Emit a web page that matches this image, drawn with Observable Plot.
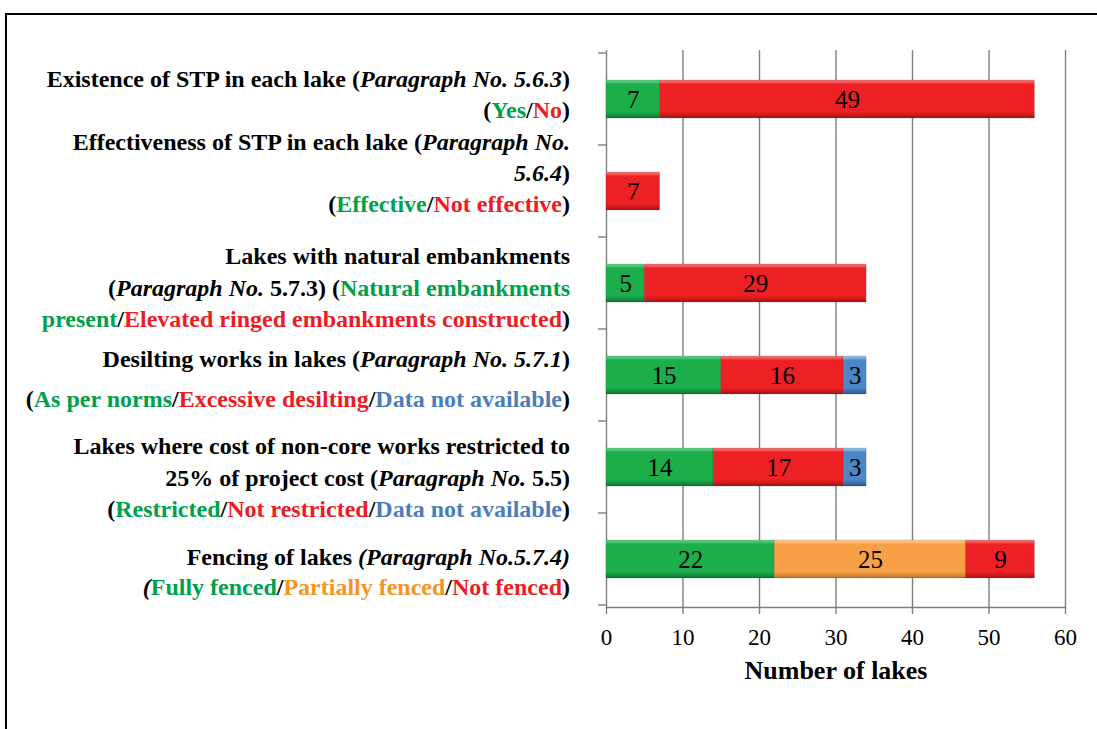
<!DOCTYPE html>
<html><head><meta charset="utf-8">
<script src="https://cdn.jsdelivr.net/npm/d3@7"></script>
<script src="https://cdn.jsdelivr.net/npm/@observablehq/plot@0.6"></script>
<style>
body{margin:0;background:#fff;}
#wrap{position:relative;width:1097px;height:729px;overflow:hidden;font-family:"Liberation Serif","Times New Roman",Tinos,"DejaVu Serif",serif;}
#wrap svg{position:absolute;left:0;top:0;}
#frame{position:absolute;left:5px;top:13px;width:1200px;height:800px;border-top:2px solid #000;border-left:2px solid #000;pointer-events:none;}
</style></head><body>
<div id="wrap"><div id="frame"></div></div>
<script>
// ---- data ----
const categories = ["Existence of STP", "Effectiveness of STP", "Natural embankments", "Desilting works", "Non-core works cost", "Fencing of lakes"];
const groups = ["positive", "partial", "negative", "unavailable"];
const positiveValues    = [7, 0, 5, 15, 14, 22];
const partialValues     = [0, 0, 0, 0, 0, 25];
const negativeValues    = [49, 7, 29, 16, 17, 9];
const unavailableValues = [0, 0, 0, 3, 3, 0];
const xTicks = [0, 10, 20, 30, 40, 50, 60];
const xLabel = "Number of lakes";

// label lines: [text, style]  k=black, i=black italic, g=green, o=orange, r=red, u=blue
const labelLines = [
  [[["Existence of STP in each lake (", "k"], ["Paragraph No. 5.6.3", "i"], [")", "k"]],
   [["(", "k"], ["Yes", "g"], ["/", "k"], ["No", "r"], [")", "k"]]],
  [[["Effectiveness of STP in each lake (", "k"], ["Paragraph No.", "i"]],
   [["5.6.4", "i"], [")", "k"]],
   [["(", "k"], ["Effective", "g"], ["/", "k"], ["Not effective", "r"], [")", "k"]]],
  [[["Lakes with natural embankments", "k"]],
   [["(", "k"], ["Paragraph No.", "i"], [" 5.7.3) (", "k"], ["Natural embankments", "g"]],
   [["present", "g"], ["/", "k"], ["Elevated ringed embankments constructed", "r"], [")", "k"]]],
  [[["Desilting works in lakes (", "k"], ["Paragraph No. 5.7.1", "i"], [")", "k"]],
   [["(", "k"], ["As per norms", "g"], ["/", "k"], ["Excessive desilting", "r"], ["/", "k"], ["Data not available", "u"], [")", "k"]]],
  [[["Lakes where cost of non-core works restricted to", "k"]],
   [["25% of project cost (", "k"], ["Paragraph No.", "i"], [" 5.5)", "k"]],
   [["(", "k"], ["Restricted", "g"], ["/", "k"], ["Not restricted", "r"], ["/", "k"], ["Data not available", "u"], [")", "k"]]],
  [[["Fencing of lakes ", "k"], ["(Paragraph No.5.7.4)", "i"]],
   [["(", "i"], ["Fully fenced", "g"], ["/", "k"], ["Partially fenced", "o"], ["/", "k"], ["Not fenced", "r"], [")", "k"]]]
];

// ---- layout / style ----
const lineOffsets = [[-12, 19], [-41, -10, 21], [-19, 13, 44], [-8, 32], [-13, 19, 50], [6, 36]];
const barColors = {
  positive:    ["#6fd08c", "#1bae4b", "#0a7431"],
  partial:     ["#fdd09c", "#f7a046", "#c0722a"],
  negative:    ["#f78082", "#ed2024", "#a81317"],
  unavailable: ["#a9c8ea", "#4a86c8", "#2b5a90"]
};
const textColors = {k: "#000", i: "#000", g: "#00a14b", o: "#f7941d", r: "#ed1c24", u: "#4a7ebb"};
const serif = "Liberation Serif, Times New Roman, Tinos, DejaVu Serif, serif";

const valuesByGroup = {positive: positiveValues, partial: partialValues, negative: negativeValues, unavailable: unavailableValues};
const data = [];
categories.forEach((c, i) => groups.forEach(g => {
  const v = valuesByGroup[g][i];
  if (v > 0) data.push({category: c, group: g, value: v});
}));

const plot = Plot.plot({
  width: 1097, height: 729,
  marginLeft: 606, marginRight: 32, marginTop: 50, marginBottom: 122,
  style: {fontFamily: serif, background: "transparent", overflow: "visible"},
  x: {domain: [0, 60], ticks: xTicks},
  y: {domain: categories, paddingInner: 0.59, paddingOuter: 0.295, axis: null},
  color: {type: "ordinal", domain: groups, range: groups.map(g => `url(#grad-${g})`)},
  marks: [
    Plot.gridX(xTicks, {stroke: "#7f7f7f", strokeOpacity: 1, strokeWidth: 1.4}),
    Plot.frame({anchor: "bottom", stroke: "#7f7f7f", strokeWidth: 1.4}),
    Plot.barX(data, {x: "value", y: "category", fill: "group", order: groups, stroke: "rgba(0,0,0,0.18)", strokeWidth: 0.8}),
    Plot.text(data, Plot.stackX({x: "value", y: "category", z: "group", order: groups, text: "value", fontSize: 25, fill: "#000"})),
    Plot.axisX(xTicks, {tickSize: 7, tickPadding: 14, fontSize: 23, stroke: "#7f7f7f", strokeWidth: 1.4, fill: "#000", label: null}),
    Plot.text([xLabel], {frameAnchor: "bottom", dy: 71, fontSize: 26, fontWeight: "bold", fill: "#000"})
  ]
});

// gradients
const svg = d3.select(plot);
const defs = svg.insert("defs", ":first-child");
groups.forEach(g => {
  const [light, base, dark] = barColors[g];
  const lg = defs.append("linearGradient").attr("id", `grad-${g}`).attr("x1", 0).attr("y1", 0).attr("x2", 0).attr("y2", 1);
  lg.append("stop").attr("offset", "0%").attr("stop-color", light);
  lg.append("stop").attr("offset", "12%").attr("stop-color", base);
  lg.append("stop").attr("offset", "84%").attr("stop-color", base);
  lg.append("stop").attr("offset", "100%").attr("stop-color", dark);
});

// category boundary ticks on the y axis
const ys = plot.scale("y");
const xs = plot.scale("x");
const x0 = xs.apply(0);
const gap = (ys.step - ys.bandwidth) / 2;
const bounds = categories.map(c => ys.apply(c) - gap);
bounds.push(ys.apply(categories[categories.length - 1]) + ys.bandwidth + gap);
svg.append("g").selectAll("line").data(bounds).join("line")
  .attr("x1", x0 - 8).attr("x2", x0).attr("y1", d => d).attr("y2", d => d)
  .attr("stroke", "#7f7f7f").attr("stroke-width", 1.4);

// multi-colour category labels
const lab = svg.append("g")
  .attr("text-anchor", "end")
  .style("font-family", serif)
  .attr("font-size", 24)
  .attr("font-weight", "bold");
categories.forEach((c, i) => {
  const center = ys.apply(c) + ys.bandwidth / 2;
  labelLines[i].forEach((segs, j) => {
    const t = lab.append("text").attr("x", x0 - 36).attr("y", center + lineOffsets[i][j]);
    segs.forEach(([txt, st]) => {
      t.append("tspan").text(txt).attr("fill", textColors[st]).attr("font-style", st === "i" ? "italic" : "normal");
    });
  });
});

document.getElementById("wrap").insertBefore(plot, document.getElementById("frame"));
</script>
</body></html>
